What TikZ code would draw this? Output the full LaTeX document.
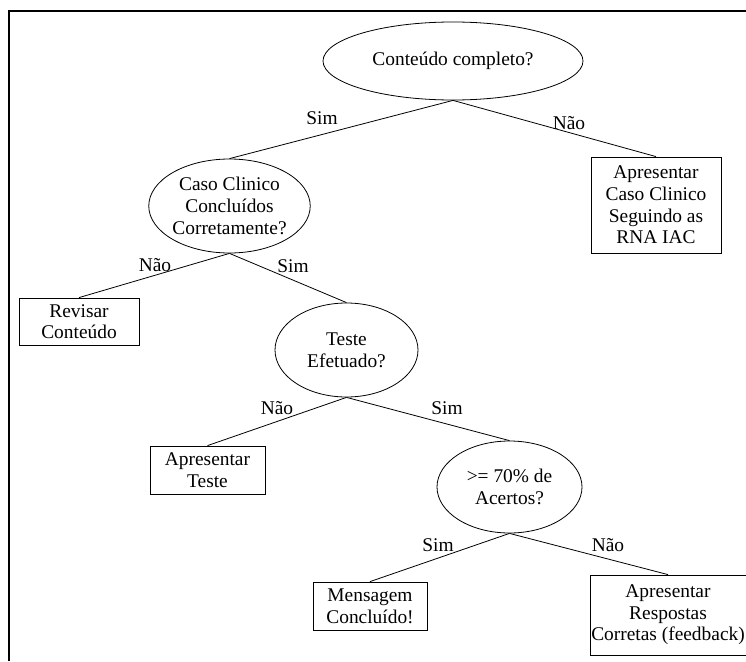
\documentclass[tikz,border=0pt]{standalone}
\usepackage{fontspec}
\setmainfont{Liberation Serif}
\usetikzlibrary{shapes.geometric}
\begin{document}
\begin{tikzpicture}[x=1pt, y=-1pt,
  every node/.style={font=\fontsize{19.4}{21.6}\selectfont, inner sep=0pt, align=center},
  question/.style={draw, ellipse, line width=0.8pt},
  action/.style={draw, rectangle, line width=0.8pt},
  branch/.style={line width=0.8pt},
  answer/.style={}]
  \useasboundingbox (0,0) rectangle (746,661);

  % outer frame (top and left edges)
  \coordinate (fbl) at (9,661);
  \coordinate (ftl) at (9,11);
  \coordinate (ftr) at (746,11);
  \draw[line width=2pt] (fbl) -- (ftl) -- (ftr);

  % decisions
  \node[question, minimum width=260pt, minimum height=78pt] (q1) at (453,61) {Conteúdo completo?};
  \node[question, minimum width=145pt, minimum height=94pt] (q2) at (229.5,206) {Caso Clinico\\Concluídos\\Corretamente?};
  \node[question, minimum width=143pt, minimum height=94pt] (q3) at (346.5,350) {Teste\\Efetuado?};
  \node[question, minimum width=145pt, minimum height=92pt] (q4) at (509.5,487) {>= 70\% de\\Acertos?};

  % actions
  \node[action, minimum width=130pt, minimum height=96pt] (a1) at (656,205) {Apresentar\\Caso Clinico\\Seguindo as\\RNA IAC};
  \node[action, minimum width=120pt, minimum height=47pt] (a2) at (79,321.5) {Revisar\\Conteúdo};
  \node[action, minimum width=115pt, minimum height=48pt] (a3) at (207.5,470) {Apresentar\\Teste};
  \node[action, minimum width=114pt, minimum height=48pt] (a4) at (370,606) {Mensagem\\Concluído!};
  \node[action, minimum width=156pt, minimum height=80pt] (a5) at (668,615) {Apresentar\\Respostas\\Corretas (feedback)};

  % branches
  \draw[branch] (q1.south) -- (q2.north);
  \draw[branch] (q1.south) -- (a1.north);
  \draw[branch] (q2.south) -- (a2.north);
  \draw[branch] (q2.south) -- (q3.north);
  \draw[branch] (q3.south) -- (a3.north);
  \draw[branch] (q3.south) -- (q4.north);
  \draw[branch] (q4.south) -- (a4.north);
  \draw[branch] (q4.south) -- (a5.north);

  % branch labels
  \node[answer] (l1) at (322,118) {Sim};
  \node[answer] (l2) at (569,123) {Não};
  \node[answer] (l3) at (155,265) {Não};
  \node[answer] (l4) at (293,266) {Sim};
  \node[answer] (l5) at (277,408) {Não};
  \node[answer] (l6) at (447,408) {Sim};
  \node[answer] (l7) at (438,545) {Sim};
  \node[answer] (l8) at (608,545) {Não};
\end{tikzpicture}
\end{document}
